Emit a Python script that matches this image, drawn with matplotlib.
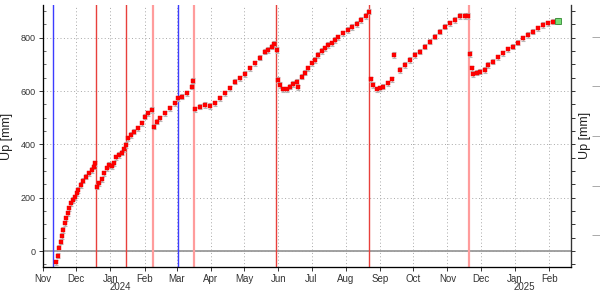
import numpy as np
import pandas as pd
import matplotlib
matplotlib.use("Agg")
import matplotlib.pyplot as plt
from matplotlib.transforms import blended_transform_factory

plt.rcParams['font.family'] = ['Liberation Sans', 'DejaVu Sans']

# ---- data (days since base date, Up in mm) ----
base_date = pd.Timestamp('2023-11-01')

seg1_days = [11.8, 13.3, 14.8, 16.3, 17.2, 18.4, 19.9, 20.8, 22.4, 23.8, 25.3, 27.4,
             29.0, 30.5, 31.9, 34.4, 36.5, 38.9, 41.6, 44.1, 46.4, 47.5]
seg1_up = [-42, -18, 12, 35, 56, 79, 104, 123, 141, 160, 179, 191,
           201, 216, 229, 248, 264, 279, 292, 304, 316, 329]

seg2_days = [48.6, 50.7, 53.1, 55.5, 57.6, 60.0, 62.2, 64.3, 66.0, 68.8, 71.2, 73.6,
             74.9, 77.2, 79.6, 82.6, 85.7, 89.3, 92.3, 95.3, 98.4]
seg2_up = [241, 254, 269, 292, 310, 323, 319, 329, 351, 360, 369, 382,
           398, 423, 435, 448, 460, 479, 504, 516, 529]

seg3_days = [100.5, 102.9, 105.9, 110.4, 114.9, 119.5, 122.4, 125.5, 130.0, 134.6, 136.0]
seg3_up = [466, 485, 498, 516, 535, 554, 573, 579, 592, 616, 639]

seg4_days = [137.6, 142.0, 146.6, 151.0, 155.7, 160.2, 164.7, 169.2, 173.8, 178.3,
             182.8, 187.3, 191.9, 196.4, 200.9, 203.9, 207.0, 209.3, 211.5]
seg4_up = [532, 541, 548, 544, 554, 573, 592, 610, 635, 648,
           664, 685, 704, 725, 748, 754, 767, 777, 754]

seg5_days = [212.4, 214.5, 217.5, 220.5, 223.5, 226.5, 229.6, 231.0, 234.1, 237.1,
             240.1, 243.2, 246.2, 249.1, 252.2, 255.2, 258.2, 261.3, 264.3, 267.2,
             271.8, 276.3, 280.0, 284.0, 288.0, 292.0, 295.0]
seg5_up = [642, 623, 607, 607, 617, 627, 635, 614, 654, 669,
           685, 704, 717, 735, 751, 760, 773, 779, 792, 802,
           817, 829, 840, 852, 867, 882, 898]

seg6_days = [296.8, 298.9, 302.0, 305.0, 308.0, 312.0, 315.6, 318.0, 323.0, 327.6,
             332.1, 336.7, 341.2, 345.7, 350.2, 354.8, 359.3, 363.8, 368.3, 372.9,
             377.4, 381.9, 384.6]
seg6_up = [644, 623, 607, 610, 617, 629, 644, 735, 679, 698,
           717, 735, 748, 767, 785, 804, 823, 842, 854, 867,
           882, 882, 882]

seg7_days = [386.4, 387.9, 389.4, 392.5, 395.5, 400.0, 403.0, 407.5, 412.0, 416.6,
             421.1, 425.6, 430.1, 434.7, 439.2, 443.7, 448.2, 452.8, 457.3, 461.8,
             466.3]
seg7_up = [739, 685, 664, 669, 673, 679, 698, 710, 727, 742,
           757, 767, 782, 798, 810, 823, 836, 848, 854, 860,
           863]

up_err = 10  # mm

event_days = [9.05, 47.9, 74.9, 99.8, 122.5, 136.7, 210.6, 295.4, 385.2]
event_kinds = ['blue', 'red', 'red', 'pink', 'blue', 'pink', 'red', 'red', 'pink']

month_labels = ['Nov', 'Dec', 'Jan', 'Feb', 'Mar', 'Apr', 'May', 'Jun', 'Jul',
                'Aug', 'Sep', 'Oct', 'Nov', 'Dec', 'Jan', 'Feb']
year_labels = ['2024', '2025']
y_ticks = [0, 200, 400, 600, 800]

# ---- build ----
all_days = (seg1_days + seg2_days + seg3_days + seg4_days + seg5_days +
            seg6_days + seg7_days)
all_up = seg1_up + seg2_up + seg3_up + seg4_up + seg5_up + seg6_up + seg7_up
dates = base_date + pd.to_timedelta(all_days, unit='D')

kind_color = {'blue': '#3c3cff', 'red': '#e8403c', 'pink': '#ff9c9c'}
kind_lw = {'blue': 1.0, 'red': 1.0, 'pink': 1.6}

fig = plt.figure(figsize=(6.0, 2.95), dpi=100)
ax = fig.add_axes([43/600, 1-267/295, (571-43)/600, (267-5)/295])

x0 = base_date
x1 = base_date + pd.Timedelta(days=477.8)
ax.set_xlim(x0, x1)
ax.set_ylim(-60, 923)

month_starts = pd.date_range('2023-11-01', periods=len(month_labels), freq='MS')
ax.set_xticks(month_starts)
ax.set_xticklabels(month_labels)
ax.set_yticks(y_ticks)
ax.set_yticklabels([str(v) for v in y_ticks])
ax.grid(True, which='major', color='#a8a8a8', linestyle=(0, (1, 2.5)), linewidth=0.7)
ax.set_axisbelow(True)

ax.axhline(0, color='#9a9a9a', lw=1.3, zorder=1)

for d, k in zip(event_days, event_kinds):
    ax.axvline(base_date + pd.Timedelta(days=d), color=kind_color[k], lw=kind_lw[k], zorder=2)

ax.errorbar(dates, all_up, yerr=up_err, fmt='none', ecolor='#b8b8b8', elinewidth=1.0,
            capsize=1.5, capthick=0.8, zorder=3)
ax.plot(dates, all_up, linestyle='none', marker='s', ms=3.4, color='#ff0000',
        mec='#ee0000', mew=0.3, zorder=4)
ax.plot(dates[-1:], all_up[-1:], linestyle='none', marker='s', ms=4.5,
        color='#77dd77', mec='#338833', mew=0.6, zorder=5)

ax.spines['top'].set_visible(False)
for s in ['left', 'bottom', 'right']:
    ax.spines[s].set_color('#333333')
    ax.spines[s].set_linewidth(0.9)
ax.tick_params(axis='x', direction='out', length=3, width=0.7, colors='#333333',
               labelsize=7, pad=2)
ax.tick_params(axis='y', direction='out', length=3, width=0.7, colors='#333333',
               labelsize=6.5, pad=2)
ax.set_yticks(np.arange(-50, 901, 50), minor=True)
ax.tick_params(axis='y', which='minor', direction='in', length=2, width=0.6,
               colors='#555555', left=True)

axr = ax.twinx()
axr.set_ylim(ax.get_ylim())
axr.set_yticks(np.arange(-50, 901, 50))
axr.set_yticklabels([])
axr.tick_params(axis='y', direction='out', length=3, width=0.7, colors='#333333')
axr.spines['top'].set_visible(False)
axr.spines['right'].set_color('#333333')

ax.set_ylabel('Up [mm]', fontsize=9, color='#222222', labelpad=6)

trans = blended_transform_factory(ax.transData, ax.transAxes)
for yl in year_labels:
    xd = pd.Timestamp(f'{yl}-01-10')
    ax.text(xd, -0.058, yl, transform=trans, ha='center', va='top',
            fontsize=7, color='#333333')

fig.text(585/600, 1-135/295, 'Up [mm]', rotation=90, ha='center', va='center',
         fontsize=9, color='#222222')
axn = fig.add_axes([600/600, 1-267/295, 0.05, (267-5)/295])
axn.set_ylim(-0.646, 4.646)
axn.set_yticks([0, 1, 2, 3, 4])
axn.set_yticklabels([])
axn.set_xticks([])
axn.tick_params(axis='y', direction='out', length=6, width=0.7, colors='#aaaaaa')
for s in axn.spines.values():
    s.set_visible(False)

fig.savefig('out.png', dpi=100)
